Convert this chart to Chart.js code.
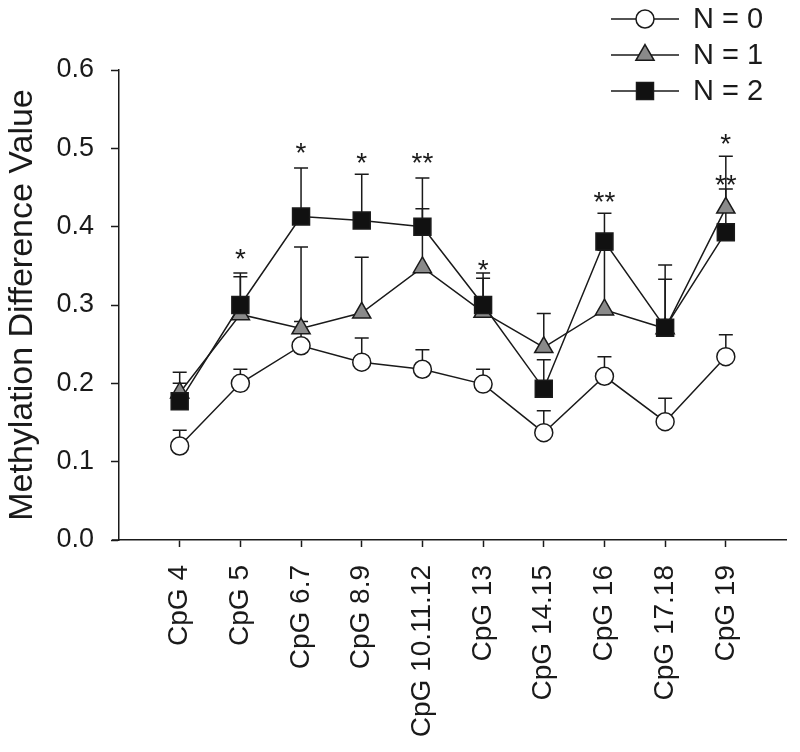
<!DOCTYPE html>
<html lang="en">
<head>
    <meta charset="UTF-8">
    <title>Methylation Difference Value</title>
    <script src="https://cdn.jsdelivr.net/npm/chart.js"></script>
    <style>
        * { margin: 0; padding: 0; box-sizing: border-box; }
        body { width: 800px; height: 752px; background: #fff; overflow: hidden; }
        .chart-container { position: relative; width: 800px; height: 752px; }
    </style>
</head>
<body>
    <div class="chart-container">
        <canvas id="myChart"></canvas>
    </div>

    <script>
        // Data
        const categories = ['CpG 4', 'CpG 5', 'CpG 6.7', 'CpG 8.9', 'CpG 10.11.12',
                            'CpG 13', 'CpG 14.15', 'CpG 16', 'CpG 17.18', 'CpG 19'];
        const yTicks = [0.0, 0.1, 0.2, 0.3, 0.4, 0.5, 0.6];

        const meanN0 = [0.120, 0.200, 0.248, 0.227, 0.218, 0.199, 0.137, 0.209, 0.151, 0.234];
        const errN0  = [0.020, 0.018, 0.031, 0.031, 0.025, 0.019, 0.028, 0.025, 0.030, 0.028];

        const meanN1 = [0.188, 0.288, 0.270, 0.290, 0.348, 0.291, 0.246, 0.294, 0.270, 0.424];
        const errN1  = [0.026, 0.048, 0.104, 0.071, 0.075, 0.043, 0.043, 0.076, 0.063, 0.024];

        const meanN2 = [0.177, 0.300, 0.413, 0.408, 0.400, 0.300, 0.193, 0.381, 0.271, 0.393];
        const errN2  = [0.023, 0.041, 0.062, 0.059, 0.062, 0.041, 0.037, 0.036, 0.080, 0.097];

        // significance marks: category index, text, value at mark centre
        const starIdx  = [1, 2, 3, 4, 5, 7, 9, 9];
        const starText = ['*', '*', '*', '**', '*', '**', '*', '**'];
        const starVal  = [0.368, 0.503, 0.490, 0.490, 0.354, 0.440, 0.515, 0.462];

        const FONT = "'Liberation Sans', Arial, sans-serif";
        const INK = '#1a1a1a';

        const toPoints = (arr) => arr.map((v, i) => ({ x: i, y: v }));

        // Error bars (upper only), drawn behind the markers
        const errorBars = {
            id: 'errorBars',
            beforeDatasetsDraw(chart) {
                const { ctx, scales: { y } } = chart;
                ctx.save();
                ctx.strokeStyle = INK;
                ctx.lineWidth = 1.5;
                chart.data.datasets.forEach((ds, di) => {
                    const meta = chart.getDatasetMeta(di);
                    meta.data.forEach((pt, i) => {
                        const top = y.getPixelForValue(ds.data[i].y + ds.err[i]);
                        ctx.beginPath();
                        ctx.moveTo(pt.x, pt.y);
                        ctx.lineTo(pt.x, top);
                        ctx.moveTo(pt.x - 7, top);
                        ctx.lineTo(pt.x + 7, top);
                        ctx.stroke();
                    });
                });
                ctx.restore();
            }
        };

        // Asterisks, legend and the small stub of the x axis left of the y axis
        const extras = {
            id: 'extras',
            afterDraw(chart) {
                const { ctx, chartArea, scales: { x, y } } = chart;
                ctx.save();
                ctx.strokeStyle = INK;
                ctx.lineWidth = 1.5;
                ctx.beginPath();
                ctx.moveTo(chartArea.left - 7, chartArea.bottom);
                ctx.lineTo(chartArea.left, chartArea.bottom);
                ctx.stroke();

                ctx.fillStyle = INK;
                ctx.font = '28px ' + FONT;
                ctx.textAlign = 'center';
                ctx.textBaseline = 'alphabetic';
                starIdx.forEach((ci, k) => {
                    const px = x.getPixelForValue(ci);
                    const py = y.getPixelForValue(starVal[k]);
                    ctx.fillText(starText[k], px, py + 16);
                });

                // legend
                const rows = [19, 55, 91];
                chart.data.datasets.forEach((ds, di) => {
                    const ly = rows[di];
                    ctx.strokeStyle = INK;
                    ctx.lineWidth = 1.5;
                    ctx.beginPath();
                    ctx.moveTo(611, ly);
                    ctx.lineTo(679, ly);
                    ctx.stroke();
                    ctx.fillStyle = ds.pointBackgroundColor;
                    ctx.strokeStyle = ds.pointBorderColor;
                    ctx.lineWidth = ds.pointBorderWidth;
                    Chart.helpers.drawPoint(ctx, {
                        pointStyle: ds.pointStyle,
                        radius: ds.pointRadius,
                        borderWidth: ds.pointBorderWidth,
                        rotation: 0
                    }, 645, ly);
                    ctx.fillStyle = INK;
                    ctx.font = '29px ' + FONT;
                    ctx.textAlign = 'left';
                    ctx.textBaseline = 'middle';
                    ctx.fillText(ds.label, 693, ly + 1);
                });
                ctx.restore();
            }
        };

        const baseSet = {
            borderColor: INK,
            borderWidth: 1.5,
            pointBorderColor: INK,
            pointBorderWidth: 1.5,
            pointHoverRadius: 0
        };

        const ctx = document.getElementById('myChart').getContext('2d');
        const chart = new Chart(ctx, {
            type: 'line',
            data: {
                datasets: [
                    Object.assign({}, baseSet, {
                        label: 'N = 0', data: toPoints(meanN0), err: errN0,
                        pointStyle: 'circle', pointRadius: 9,
                        pointBackgroundColor: '#ffffff', order: 2
                    }),
                    Object.assign({}, baseSet, {
                        label: 'N = 1', data: toPoints(meanN1), err: errN1,
                        pointStyle: 'triangle', pointRadius: 10.5,
                        pointBackgroundColor: '#8a8a8a', order: 1
                    }),
                    Object.assign({}, baseSet, {
                        label: 'N = 2', data: toPoints(meanN2), err: errN2,
                        pointStyle: 'rect', pointRadius: 12,
                        pointBackgroundColor: '#111111', order: 0
                    })
                ]
            },
            options: {
                responsive: true,
                maintainAspectRatio: false,
                animation: false,
                events: [],
                layout: { padding: { top: 70, right: 8, left: 0, bottom: 0 } },
                plugins: {
                    legend: { display: false },
                    tooltip: { enabled: false }
                },
                scales: {
                    x: {
                        type: 'linear',
                        min: -1,
                        max: 10,
                        afterBuildTicks(scale) {
                            scale.ticks = categories.map((_, i) => ({ value: i }));
                        },
                        afterFit(scale) { scale.height = 212; },
                        ticks: {
                            autoSkip: false,
                            minRotation: 90,
                            maxRotation: 90,
                            padding: 18,
                            color: INK,
                            font: { family: FONT, size: 28 },
                            callback: (v) => categories[v] ?? ''
                        },
                        grid: {
                            drawOnChartArea: false,
                            tickLength: 7,
                            tickWidth: 1.5,
                            color: INK
                        },
                        border: { color: INK, width: 1.5 }
                    },
                    y: {
                        min: 0,
                        max: 0.6,
                        afterBuildTicks(scale) {
                            scale.ticks = yTicks.map(v => ({ value: v }));
                        },
                        afterFit(scale) { scale.width = 119; },
                        title: {
                            display: true,
                            text: 'Methylation Difference Value',
                            color: INK,
                            font: { family: FONT, size: 34 },
                            padding: { top: 2, bottom: 0 }
                        },
                        ticks: {
                            padding: 17,
                            color: INK,
                            font: { family: FONT, size: 27 },
                            callback: (v) => v.toFixed(1)
                        },
                        grid: {
                            drawOnChartArea: false,
                            tickLength: 8,
                            tickWidth: 1.5,
                            color: INK
                        },
                        border: { color: INK, width: 1.5 }
                    }
                }
            },
            plugins: [errorBars, extras]
        });
    </script>
</body>
</html>
